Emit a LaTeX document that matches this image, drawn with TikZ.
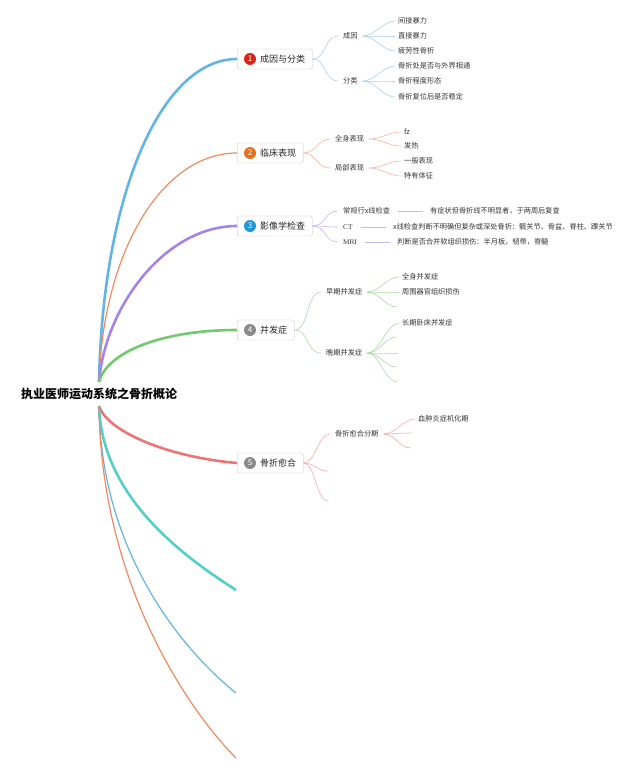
\documentclass[tikz,border=0pt]{standalone}
\usepackage{fontspec}
\setmainfont{Noto Sans CJK SC}
\newfontfamily\latinrm{Liberation Serif}
\usepackage{xcolor}
\usetikzlibrary{arrows.meta,positioning}

\definecolor{brBlue}{HTML}{62B4E4}
\definecolor{brOrange}{HTML}{F2895E}
\definecolor{brPurple}{HTML}{A285E6}
\definecolor{brGreen}{HTML}{72CA6E}
\definecolor{brRed}{HTML}{EF7374}
\definecolor{brTeal}{HTML}{52D0C8}
\definecolor{lnBlue}{HTML}{A9D3EC}
\definecolor{lnOrange}{HTML}{F5B59C}
\definecolor{lnPurple}{HTML}{C6B6EF}
\definecolor{lnGreen}{HTML}{A9DDA5}
\definecolor{lnRed}{HTML}{F6A9AF}
\definecolor{bdgRed}{HTML}{D8241A}
\definecolor{bdgOrange}{HTML}{E8701A}
\definecolor{bdgBlue}{HTML}{2196DC}
\definecolor{bdgGray}{HTML}{8A8A8A}

\begin{document}
\begin{tikzpicture}[
    x=1pt, y=-1pt,
    root/.style={font=\fontsize{12}{14}\selectfont\bfseries, inner xsep=2pt, inner ysep=6pt},
    topic/.style={
        rectangle,
        rounded corners=1.5pt,
        draw=black!25,
        fill=white,
        anchor=west,
        minimum height=20pt,
        inner xsep=7pt,
        font=\fontsize{9}{11}\selectfont,
        text=black!85
    },
    badge/.style={circle, fill=#1, text=white, inner sep=0pt, minimum size=12pt,
        font=\fontsize{8}{9}\selectfont},
    sub/.style={anchor=west, inner xsep=5pt, inner ysep=1pt,
        font=\fontsize{7.2}{8}\selectfont, text=black!80},
    leaf/.style={sub, inner xsep=3pt},
    main/.style={line width=2.6pt, draw=#1},
    mainthin/.style={line width=1.2pt, draw=#1},
    twig/.style={line width=0.6pt, draw=#1},
    link/.style={twig=#1, shorten <=3pt, shorten >=4pt}
]
\useasboundingbox (0,0) rectangle (640,773);

% =========================================================
% Root and topics
% =========================================================
\node[root] (root) at (99,394) {执业医师运动系统之骨折概论};

\node[topic] (b1) at (237,59)  {\hspace*{16pt}成因与分类};
\node[topic] (b2) at (237,153) {\hspace*{16pt}临床表现};
\node[topic] (b3) at (237,226) {\hspace*{16pt}影像学检查};
\node[topic] (b4) at (237,330) {\hspace*{16pt}并发症};
\node[topic] (b5) at (237,463) {\hspace*{16pt}骨折愈合};

\node[badge=bdgRed]    (n1) at ([xshift=13pt]b1.west) {1};
\node[badge=bdgOrange] (n2) at ([xshift=13pt]b2.west) {2};
\node[badge=bdgBlue]   (n3) at ([xshift=13pt]b3.west) {3};
\node[badge=bdgGray]   (n4) at ([xshift=13pt]b4.west) {4};
\node[badge=bdgGray]   (n5) at ([xshift=13pt]b5.west) {5};

% empty topics
\coordinate (b6) at (236,590);
\coordinate (b7) at (236,693);
\coordinate (b8) at (236,758);

% Main branches
\draw[main=brBlue]       (root.north) .. controls +(4,-190) and +(-75,0) .. (b1.west);
\draw[mainthin=brOrange] (root.north) .. controls +(4,-130) and +(-75,0) .. (b2.west);
\draw[main=brPurple]     (root.north) .. controls +(6,-75) and +(-72,0) .. (b3.west);
\draw[main=brGreen]      (root.north) .. controls +(8,-30) and +(-75,0) .. (b4.west);
\draw[main=brRed]        (root.south) .. controls +(8,25) and +(-70,-6) .. (b5.west);
\draw[main=brTeal]       (root.south) .. controls +(3,90) and +(-55,-35) .. (b6);
\draw[mainthin=brBlue]   (root.south) .. controls +(2,150) and +(-50,-40) .. (b7);
\draw[mainthin=brOrange] (root.south) .. controls +(2,180) and +(-45,-45) .. (b8);

% =========================================================
% 1 cause and classification
% =========================================================
\node[sub] (s11) at (338,36) {成因};
\node[sub] (s12) at (338,81) {分类};

\node[leaf] (l111) at (395,21) {间接暴力};
\node[leaf] (l112) at (395,36) {直接暴力};
\node[leaf] (l113) at (395,51) {疲劳性骨折};
\node[leaf] (l121) at (395,66) {骨折处是否与外界相通};
\node[leaf] (l122) at (395,81) {骨折程度形态};
\node[leaf] (l123) at (395,97) {骨折复位后是否稳定};

\foreach \s in {s11,s12}
    \draw[twig=lnBlue] (b1.east) .. controls +(14,0) and +(-14,0) .. (\s.west);
\foreach \l in {l111,l112,l113}
    \draw[twig=lnBlue] (s11.east) .. controls +(12,0) and +(-12,0) .. (\l.west);
\foreach \l in {l121,l122,l123}
    \draw[twig=lnBlue] (s12.east) .. controls +(12,0) and +(-12,0) .. (\l.west);

% =========================================================
% 2 clinical signs
% =========================================================
\node[sub] (s21) at (330,139) {全身表现};
\node[sub] (s22) at (330,168) {局部表现};

\node[leaf] (l211) at (401,132) {fz};
\node[leaf] (l212) at (401,146) {发热};
\node[leaf] (l221) at (401,161) {一般表现};
\node[leaf] (l222) at (401,176) {特有体征};

\foreach \s in {s21,s22}
    \draw[twig=lnOrange] (b2.east) .. controls +(13,0) and +(-13,0) .. (\s.west);
\foreach \l in {l211,l212}
    \draw[twig=lnOrange] (s21.east) .. controls +(12,0) and +(-12,0) .. (\l.west);
\foreach \l in {l221,l222}
    \draw[twig=lnOrange] (s22.east) .. controls +(12,0) and +(-12,0) .. (\l.west);

% =========================================================
% 3 imaging
% =========================================================
\node[sub] (s31) at (338,211) {常规行x线检查};
\node[sub] (s32) at (338,227) {\latinrm CT};
\node[sub] (s33) at (338,242) {\latinrm MRI};

\node[leaf] (l31) at (427,211) {有症状但骨折线不明显者，于两周后复查};
\node[leaf] (l32) at (390,227) {x线检查判断不明确但复杂或深处骨折：髋关节、骨盆、脊柱、踝关节};
\node[leaf] (l33) at (394,242) {判断是否合并软组织损伤：半月板，韧带，脊髓};

\foreach \s in {s31,s32,s33}
    \draw[twig=lnPurple] (b3.east) .. controls +(14,0) and +(-14,0) .. (\s.west);
\draw[link=lnPurple] (s31.east) -- (l31.west);
\draw[link=lnPurple] (s32.east) -- (l32.west);
\draw[link=lnPurple] (s33.east) -- (l33.west);

% =========================================================
% 4 complications
% =========================================================
\node[sub] (s41) at (321,292) {早期并发症};
\node[sub] (s42) at (321,353) {晚期并发症};

\node[leaf] (l411) at (399,277) {全身并发症};
\node[leaf] (l412) at (399,292) {周围器官组织损伤};
\coordinate (l413) at (397,307);
\node[leaf] (l421) at (399,323) {长期卧床并发症};
\coordinate (l422) at (397,337);
\coordinate (l423) at (397,353);
\coordinate (l424) at (397,367);
\coordinate (l425) at (397,382);

\foreach \s in {s41,s42}
    \draw[twig=lnGreen] (b4.east) .. controls +(15,0) and +(-15,0) .. (\s.west);
\foreach \l in {l411.west,l412.west,l413}
    \draw[twig=lnGreen] (s41.east) .. controls +(12,0) and +(-12,0) .. (\l);
\foreach \l in {l421.west,l422,l423,l424,l425}
    \draw[twig=lnGreen] (s42.east) .. controls +(12,0) and +(-12,0) .. (\l);

% =========================================================
% 5 healing
% =========================================================
\node[sub] (s51) at (330,434) {骨折愈合分期};
\coordinate (s52) at (328,471);
\coordinate (s53) at (328,501);

\node[leaf] (l511) at (415,419) {血肿炎症机化期};
\coordinate (l512) at (411,433);
\coordinate (l513) at (411,448);

\foreach \s in {s51.west,s52,s53}
    \draw[twig=lnRed] (b5.east) .. controls +(12,0) and +(-12,0) .. (\s);
\foreach \l in {l511.west,l512,l513}
    \draw[twig=lnRed] (s51.east) .. controls +(12,0) and +(-12,0) .. (\l);

\end{tikzpicture}
\end{document}
